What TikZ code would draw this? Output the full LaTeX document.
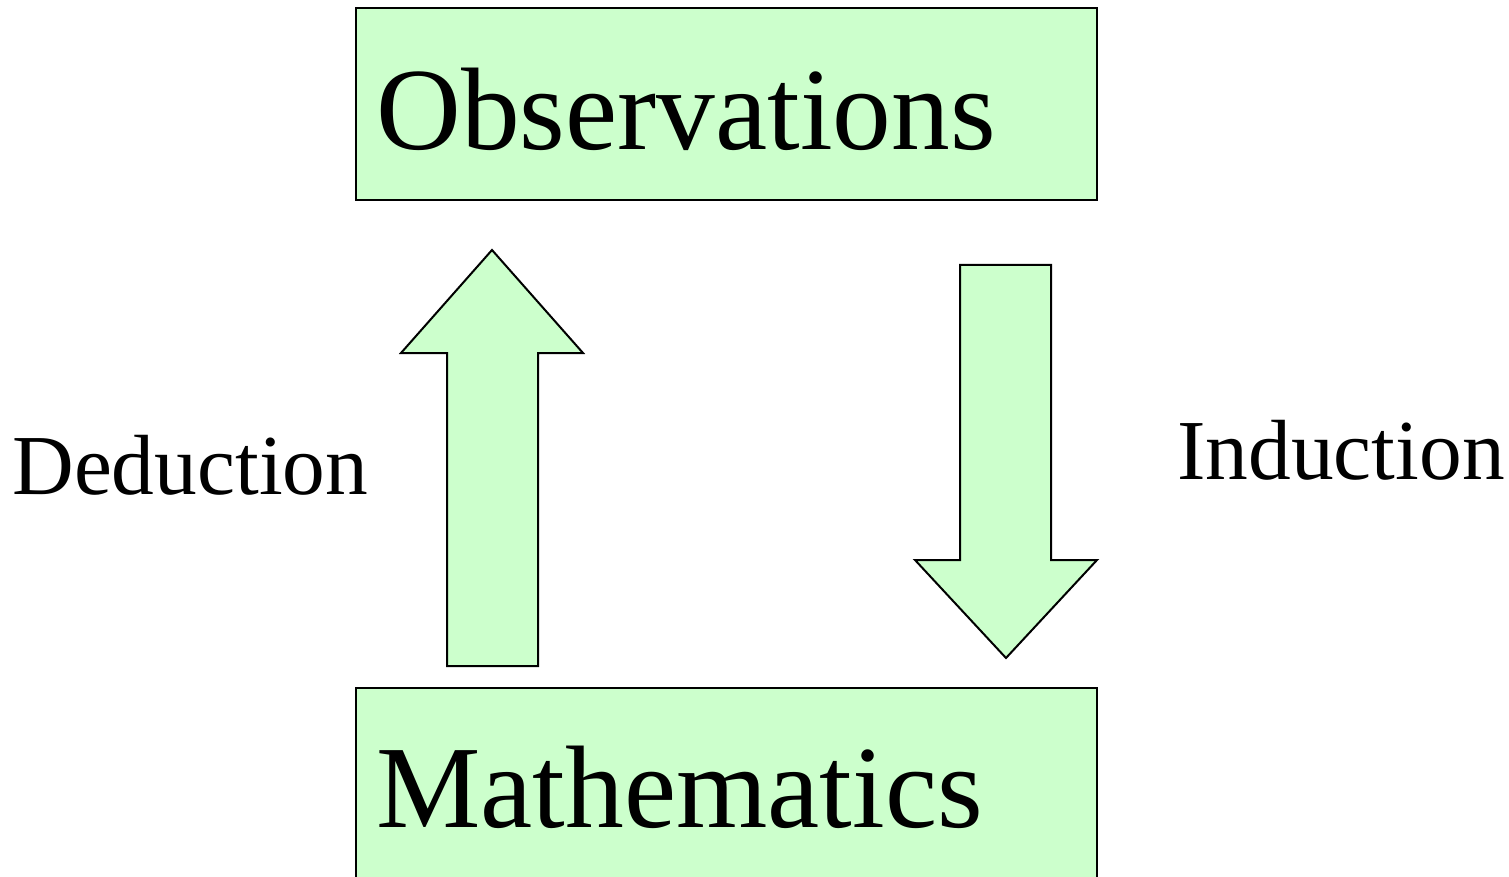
\documentclass[tikz,border=0pt]{standalone}
\usepackage{fontspec}
\setmainfont{Liberation Serif}
\definecolor{boxgreen}{HTML}{CCFFCC}
\tikzset{
  greenshape/.style={draw=black, fill=boxgreen, line width=1pt, line join=miter},
  bigtext/.style={inner sep=0pt, anchor=base west, font=\fontsize{58.7pt}{60pt}\selectfont},
  sidetext/.style={inner sep=0pt, anchor=base west, font=\fontsize{42.7pt}{44pt}\selectfont},
}
\begin{document}
\begin{tikzpicture}[x=0.5pt,y=-0.5pt]
\useasboundingbox (0,0) rectangle (1509,877);
\clip (0,0) rectangle (1509,877);
% boxes
\draw[greenshape] (356,8) rectangle (1097,200);
\draw[greenshape] (356,688) rectangle (1097,900);
\node[bigtext] (obs) at (376,150) {Observations};
\node[bigtext] (math) at (376,827) {Mathematics};
% up arrow (Deduction)
\draw[greenshape] (447,666) -- (447,353) -- (401,353) -- (492,250) -- (583,353) -- (538,353) -- (538,666) -- cycle;
% down arrow (Induction)
\draw[greenshape] (960,265) -- (1051,265) -- (1051,560) -- (1097,560) -- (1006,658) -- (915,560) -- (960,560) -- cycle;
\node[sidetext] (ded) at (12,494) {Deduction};
\node[sidetext] (ind) at (1177,479) {Induction};
\end{tikzpicture}
\end{document}
